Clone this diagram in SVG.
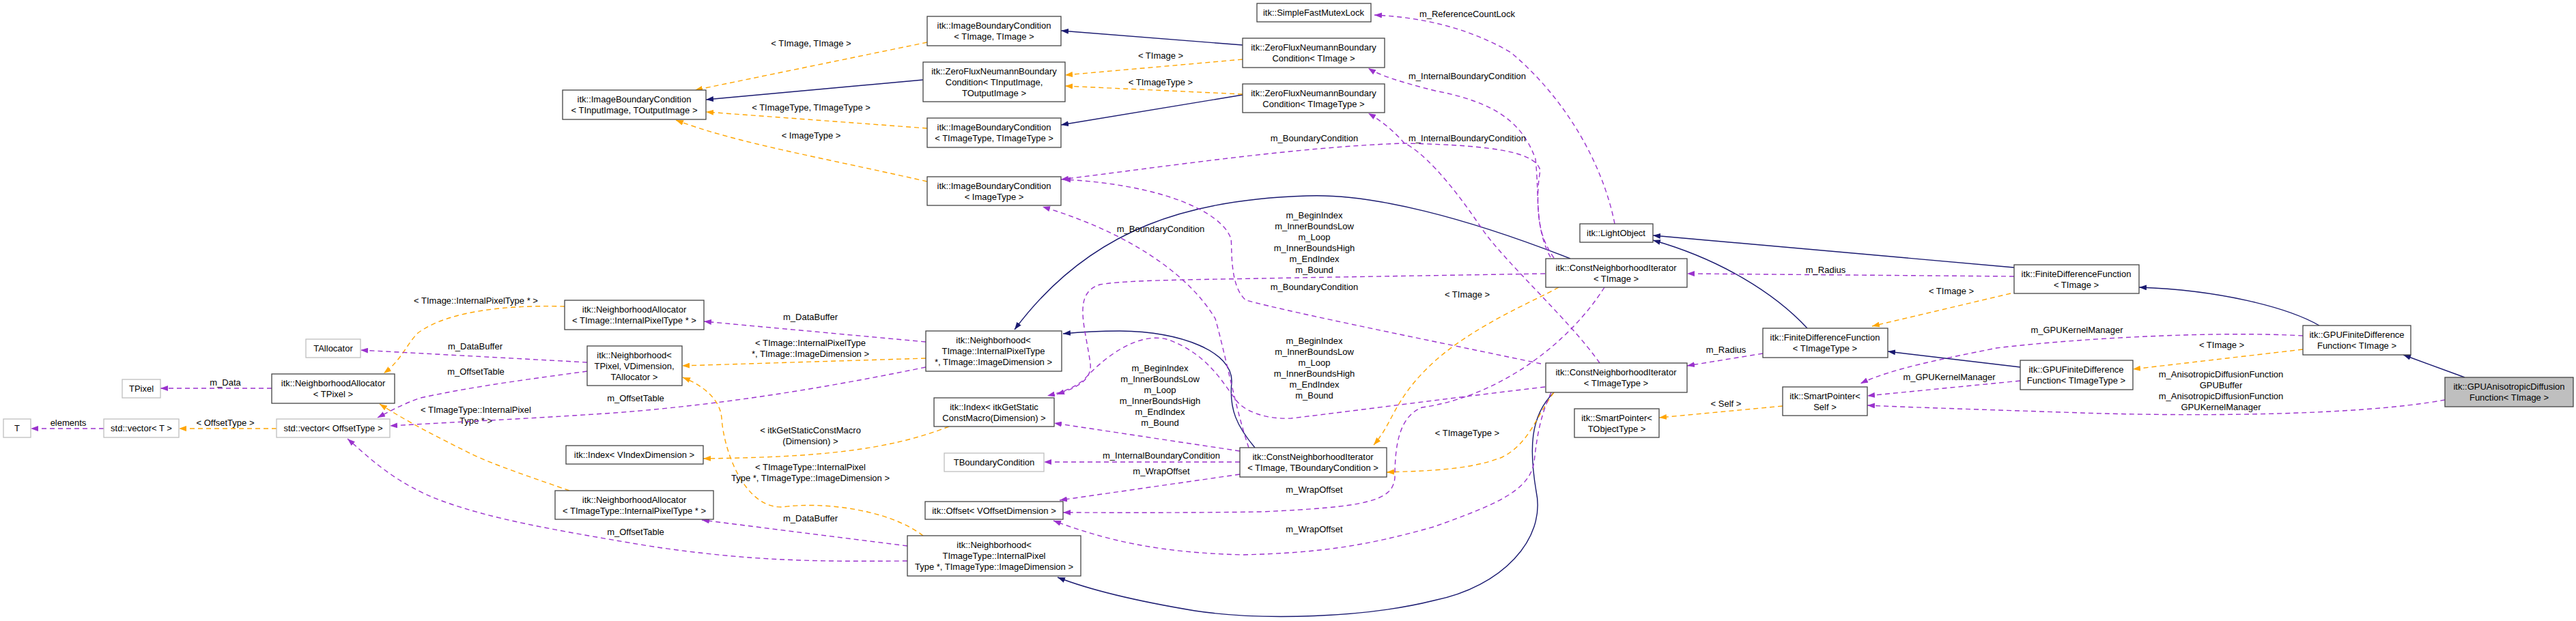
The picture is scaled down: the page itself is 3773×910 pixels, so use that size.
<svg xmlns="http://www.w3.org/2000/svg" width="3773" height="910" viewBox="0 0 3773 910">
<style>
text{font-family:"Liberation Sans",Arial,sans-serif;font-size:13px;fill:#000;text-anchor:middle}
.n rect{fill:#fff;stroke:#444;stroke-width:1.3}
.g rect{fill:#fff;stroke:#bfbfbf;stroke-width:1.3}
.h rect{fill:#bfbfbf;stroke:#444;stroke-width:1.3}
.inh{fill:none;stroke:#191970;stroke-width:1.4;marker-end:url(#aN)}
.use{fill:none;stroke:#9a32cd;stroke-width:1.4;stroke-dasharray:7,5;marker-end:url(#aP)}
.tpl{fill:none;stroke:#ffa500;stroke-width:1.4;stroke-dasharray:7,5;marker-end:url(#aO)}
</style>
<defs>
<marker id="aN" markerUnits="userSpaceOnUse" markerWidth="11" markerHeight="8" refX="11" refY="4" orient="auto"><path d="M0,0L11,4L0,8z" fill="#191970"/></marker>
<marker id="aP" markerUnits="userSpaceOnUse" markerWidth="11" markerHeight="8" refX="11" refY="4" orient="auto"><path d="M0,0L11,4L0,8z" fill="#9a32cd"/></marker>
<marker id="aO" markerUnits="userSpaceOnUse" markerWidth="11" markerHeight="8" refX="11" refY="4" orient="auto"><path d="M0,0L11,4L0,8z" fill="#ffa500"/></marker>
</defs>
<rect width="3773" height="910" fill="#fff"/>
<g id="edges">
<path class="inh" d="M1352,117 L1034,146"/>
<path class="inh" d="M1820,66 L1554,45"/>
<path class="inh" d="M1820,139 L1554,183"/>
<path class="inh" d="M2300,379 C2150,320 2010,283 1914,287 C1750,292 1600,330 1486,483"/>
<path class="inh" d="M1838,656 C1812,625 1800,600 1804,560 C1806,515 1730,486 1640,485 C1600,485 1578,487 1557,489"/>
<path class="inh" d="M2276,575 C2240,610 2240,660 2250,720 C2265,790 2200,860 2100,880 C2000,905 1850,910 1750,895 C1660,880 1590,862 1549,846"/>
<path class="inh" d="M2950,392 L2421,345"/>
<path class="inh" d="M2647,481 C2600,430 2520,380 2421,352"/>
<path class="inh" d="M2959,538 L2765,515"/>
<path class="inh" d="M3397,477 C3350,450 3250,425 3133,421"/>
<path class="inh" d="M3610,553 L3520,520"/>

<path class="tpl" d="M1358,62 L1018,132"/><text x="1188" y="68">&lt; TImage, TImage &gt;</text>
<path class="tpl" d="M1358,188 L1034,164"/><text x="1188" y="162">&lt; TImageType, TImageType &gt;</text>
<path class="tpl" d="M1358,266 C1200,230 1080,210 990,176"/><text x="1188" y="203">&lt; ImageType &gt;</text>
<path class="tpl" d="M1820,87 L1560,110"/><text x="1700" y="86">&lt; TImage &gt;</text>
<path class="tpl" d="M1820,138 L1560,126"/><text x="1700" y="125">&lt; TImageType &gt;</text>
<path class="tpl" d="M827,449 C760,447 660,452 612,488 C595,505 588,528 562,547"/><text x="697" y="445">&lt; TImage::InternalPixelType * &gt;</text>
<path class="tpl" d="M1356,525 L999,536"/><text x="1187" y="507">&lt; TImage::InternalPixelType</text><text x="1187" y="523">*, TImage::ImageDimension &gt;</text>
<path class="tpl" d="M1352,785 C1300,745 1200,735 1146,743 C1090,745 1060,660 1057,613 C1055,585 1030,565 1000,553"/><text x="1187" y="689">&lt; TImageType::InternalPixel</text><text x="1187" y="705">Type *, TImageType::ImageDimension &gt;</text>
<path class="tpl" d="M834,719 C780,700 720,680 690,665 C640,640 600,620 556,592"/><text x="697" y="605">&lt; TImageType::InternalPixel</text><text x="697" y="621">Type * &gt;</text>
<path class="tpl" d="M1390,625 C1300,660 1200,670 1030,672"/><text x="1187" y="635">&lt; itkGetStaticConstMacro</text><text x="1187" y="651">(Dimension) &gt;</text>
<path class="tpl" d="M405,628 L262,628"/><text x="330" y="624">&lt; OffsetType &gt;</text>
<path class="tpl" d="M2283,421 C2250,440 2150,480 2090,540 C2040,590 2040,620 2012,652"/><text x="2149" y="436">&lt; TImage &gt;</text>
<path class="tpl" d="M2276,575 C2250,610 2240,650 2200,670 C2150,690 2080,690 2031,692"/><text x="2149" y="639">&lt; TImageType &gt;</text>
<path class="tpl" d="M2945,430 L2742,478"/><text x="2858" y="431">&lt; TImage &gt;</text>
<path class="tpl" d="M3373,512 L3124,541"/><text x="3254" y="510">&lt; TImage &gt;</text>
<path class="tpl" d="M2611,595 L2430,612"/><text x="2528" y="596">&lt; Self &gt;</text>

<path class="use" d="M398,569 L235,569"/><text x="330" y="565">m_Data</text>
<path class="use" d="M152,628 L45,628"/><text x="100" y="624">elements</text>
<path class="use" d="M860,531 L528,513"/><text x="696" y="512">m_DataBuffer</text>
<path class="use" d="M860,544 C780,555 700,565 616,583 C590,592 570,603 553,612"/><text x="697" y="549">m_OffsetTable</text>
<path class="use" d="M1356,501 L1031,471"/><text x="1187" y="469">m_DataBuffer</text>
<path class="use" d="M1356,538 C1200,570 1057,593 900,605 C800,612 713,616 571,624"/><text x="931" y="588">m_OffsetTable</text>
<path class="use" d="M1329,800 L1028,762"/><text x="1187" y="764">m_DataBuffer</text>
<path class="use" d="M1329,822 C1200,823 1102,823 950,800 C800,775 720,760 650,735 C580,710 540,670 509,643"/><text x="931" y="784">m_OffsetTable</text>
<path class="use" d="M1816,677 L1529,677"/><text x="1701" y="672">m_InternalBoundaryCondition</text>
<path class="use" d="M1816,695 L1552,733"/><text x="1701" y="695">m_WrapOffset</text>
<path class="use" d="M1816,661 L1544,620"/>
<text x="1699" y="544">m_BeginIndex</text><text x="1699" y="560">m_InnerBoundsLow</text><text x="1699" y="576">m_Loop</text><text x="1699" y="592">m_InnerBoundsHigh</text><text x="1699" y="608">m_EndIndex</text><text x="1699" y="624">m_Bound</text>
<path class="use" d="M2263,401 L1900,407 C1750,410 1650,410 1611,417 C1570,430 1590,480 1597,533 C1600,560 1570,570 1548,578"/>
<text x="1925" y="320">m_BeginIndex</text><text x="1925" y="336">m_InnerBoundsLow</text><text x="1925" y="352">m_Loop</text><text x="1925" y="368">m_InnerBoundsHigh</text><text x="1925" y="384">m_EndIndex</text><text x="1925" y="400">m_Bound</text>
<path class="use" d="M2263,567 C2150,580 2000,600 1891,613 C1850,615 1820,600 1811,587 C1790,560 1770,520 1712,498 C1670,485 1620,520 1587,557 C1570,570 1555,575 1534,580"/>
<text x="1925" y="504">m_BeginIndex</text><text x="1925" y="520">m_InnerBoundsLow</text><text x="1925" y="536">m_Loop</text><text x="1925" y="552">m_InnerBoundsHigh</text><text x="1925" y="568">m_EndIndex</text><text x="1925" y="584">m_Bound</text>
<path class="use" d="M2271,377 C2250,340 2250,280 2256,250 C2250,225 2200,213 2057,210 C1900,215 1700,245 1554,263"/><text x="1925" y="207">m_BoundaryCondition</text>
<path class="use" d="M2257,533 C2100,500 1900,460 1825,440 C1800,420 1805,360 1803,350 C1790,310 1700,270 1557,263"/><text x="1925" y="425">m_BoundaryCondition</text>
<path class="use" d="M1829,656 C1810,600 1795,520 1780,467 C1740,400 1650,340 1527,303"/><text x="1700" y="340">m_BoundaryCondition</text>
<path class="use" d="M2276,378 C2245,333 2256,300 2249,233 C2230,180 2191,150 2102,133 C2050,120 2020,110 2004,100"/><text x="2149" y="116">m_InternalBoundaryCondition</text>
<path class="use" d="M2343,532 C2300,470 2200,380 2169,333 C2120,260 2080,220 2057,210 C2040,190 2020,175 2004,166"/><text x="2149" y="207">m_InternalBoundaryCondition</text>
<path class="use" d="M2350,421 C2300,500 2200,580 2083,597 C2050,610 2043,650 2043,700 C2040,735 2000,743 1846,750 C1700,752 1600,751 1557,751"/><text x="1925" y="722">m_WrapOffset</text>
<path class="use" d="M2272,575 C2254,613 2250,650 2247,677 C2240,720 2189,740 2100,772 C2000,800 1936,810 1820,813 C1700,810 1623,793 1543,763"/><text x="1925" y="780">m_WrapOffset</text>
<path class="use" d="M2950,405 L2471,401"/><text x="2674" y="400">m_Radius</text>
<path class="use" d="M2582,518 L2471,536"/><text x="2528" y="517">m_Radius</text>
<path class="use" d="M3373,492 C3250,485 3050,495 2924,510 C2850,525 2770,540 2725,562"/><text x="3042" y="488">m_GPUKernelManager</text>
<path class="use" d="M2959,558 L2735,580"/><text x="2855" y="557">m_GPUKernelManager</text>
<path class="use" d="M3581,586 C3450,610 3200,610 3048,605 C2900,600 2800,597 2735,594"/>
<text x="3253" y="553">m_AnisotropicDiffusionFunction</text><text x="3253" y="569">GPUBuffer</text><text x="3253" y="585">m_AnisotropicDiffusionFunction</text><text x="3253" y="601">GPUKernelManager</text>
<path class="use" d="M2365,328 C2350,250 2300,150 2213,77 C2150,40 2080,25 2013,22"/><text x="2149" y="25">m_ReferenceCountLock</text>
</g>

<g id="n_ibc_io" class="n"><rect x="824" y="132" width="210" height="43"/><text x="929" y="150">itk::ImageBoundaryCondition</text><text x="929" y="166">&lt; TInputImage, TOutputImage &gt;</text></g>
<g id="n_ibc_tt" class="n"><rect x="1358" y="24" width="196" height="43"/><text x="1456" y="42">itk::ImageBoundaryCondition</text><text x="1456" y="58">&lt; TImage, TImage &gt;</text></g>
<g id="n_zf_io" class="n"><rect x="1352" y="91" width="208" height="58"/><text x="1456" y="109">itk::ZeroFluxNeumannBoundary</text><text x="1456" y="125">Condition&lt; TInputImage,</text><text x="1456" y="141">TOutputImage &gt;</text></g>
<g id="n_ibc_tit" class="n"><rect x="1358" y="173" width="196" height="43"/><text x="1456" y="191">itk::ImageBoundaryCondition</text><text x="1456" y="207">&lt; TImageType, TImageType &gt;</text></g>
<g id="n_ibc_it" class="n"><rect x="1358" y="259" width="196" height="42"/><text x="1456" y="277">itk::ImageBoundaryCondition</text><text x="1456" y="293">&lt; ImageType &gt;</text></g>
<g id="n_mutex" class="n"><rect x="1841" y="5" width="167" height="27"/><text x="1924" y="23">itk::SimpleFastMutexLock</text></g>
<g id="n_zf_t" class="n"><rect x="1820" y="56" width="208" height="43"/><text x="1924" y="74">itk::ZeroFluxNeumannBoundary</text><text x="1924" y="90">Condition&lt; TImage &gt;</text></g>
<g id="n_zf_tt" class="n"><rect x="1820" y="123" width="208" height="42"/><text x="1924" y="141">itk::ZeroFluxNeumannBoundary</text><text x="1924" y="157">Condition&lt; TImageType &gt;</text></g>
<g id="n_light" class="n"><rect x="2314" y="328" width="107" height="27"/><text x="2367" y="346">itk::LightObject</text></g>
<g id="n_cni_t" class="n"><rect x="2264" y="379" width="207" height="42"/><text x="2367" y="397">itk::ConstNeighborhoodIterator</text><text x="2367" y="413">&lt; TImage &gt;</text></g>
<g id="n_cni_tt" class="n"><rect x="2264" y="532" width="207" height="43"/><text x="2367" y="550">itk::ConstNeighborhoodIterator</text><text x="2367" y="566">&lt; TImageType &gt;</text></g>
<g id="n_sp_to" class="n"><rect x="2306" y="599" width="124" height="42"/><text x="2368" y="617">itk::SmartPointer&lt;</text><text x="2368" y="633">TObjectType &gt;</text></g>
<g id="n_fdf_tt" class="n"><rect x="2582" y="481" width="183" height="43"/><text x="2673" y="499">itk::FiniteDifferenceFunction</text><text x="2673" y="515">&lt; TImageType &gt;</text></g>
<g id="n_sp_self" class="n"><rect x="2611" y="567" width="124" height="42"/><text x="2673" y="585">itk::SmartPointer&lt;</text><text x="2673" y="601">Self &gt;</text></g>
<g id="n_fdf_t" class="n"><rect x="2950" y="388" width="183" height="42"/><text x="3041" y="406">itk::FiniteDifferenceFunction</text><text x="3041" y="422">&lt; TImage &gt;</text></g>
<g id="n_gfdf_t" class="n"><rect x="3373" y="477" width="158" height="43"/><text x="3452" y="495">itk::GPUFiniteDifference</text><text x="3452" y="511">Function&lt; TImage &gt;</text></g>
<g id="n_gfdf_tt" class="n"><rect x="2959" y="528" width="165" height="43"/><text x="3041" y="546">itk::GPUFiniteDifference</text><text x="3041" y="562">Function&lt; TImageType &gt;</text></g>
<g id="n_gad" class="h"><rect x="3581" y="553" width="188" height="43"/><text x="3675" y="571">itk::GPUAnisotropicDiffusion</text><text x="3675" y="587">Function&lt; TImage &gt;</text></g>
<g id="n_na_tip" class="n"><rect x="827" y="440" width="204" height="43"/><text x="929" y="458">itk::NeighborhoodAllocator</text><text x="929" y="474">&lt; TImage::InternalPixelType * &gt;</text></g>
<g id="n_nb_pix" class="n"><rect x="860" y="507" width="139" height="58"/><text x="929" y="525">itk::Neighborhood&lt;</text><text x="929" y="541">TPixel, VDimension,</text><text x="929" y="557">TAllocator &gt;</text></g>
<g id="n_idx_v" class="n"><rect x="829" y="653" width="201" height="27"/><text x="929" y="671">itk::Index&lt; VIndexDimension &gt;</text></g>
<g id="n_na_ttip" class="n"><rect x="813" y="719" width="232" height="42"/><text x="929" y="737">itk::NeighborhoodAllocator</text><text x="929" y="753">&lt; TImageType::InternalPixelType * &gt;</text></g>
<g id="n_nb_ti" class="n"><rect x="1356" y="485" width="199" height="59"/><text x="1455" y="503">itk::Neighborhood&lt;</text><text x="1455" y="519">TImage::InternalPixelType</text><text x="1455" y="535">*, TImage::ImageDimension &gt;</text></g>
<g id="n_idx_m" class="n"><rect x="1368" y="583" width="176" height="42"/><text x="1456" y="601">itk::Index&lt; itkGetStatic</text><text x="1456" y="617">ConstMacro(Dimension) &gt;</text></g>
<g id="n_tbc" class="g"><rect x="1383" y="664" width="146" height="27"/><text x="1456" y="682">TBoundaryCondition</text></g>
<g id="n_off" class="n"><rect x="1355" y="735" width="202" height="26"/><text x="1456" y="753">itk::Offset&lt; VOffsetDimension &gt;</text></g>
<g id="n_nb_tti" class="n"><rect x="1329" y="785" width="254" height="59"/><text x="1456" y="803">itk::Neighborhood&lt;</text><text x="1456" y="819">TImageType::InternalPixel</text><text x="1456" y="835">Type *, TImageType::ImageDimension &gt;</text></g>
<g id="n_cni_tb" class="n"><rect x="1816" y="656" width="215" height="43"/><text x="1923" y="674">itk::ConstNeighborhoodIterator</text><text x="1923" y="690">&lt; TImage, TBoundaryCondition &gt;</text></g>
<g id="n_T" class="g"><rect x="5" y="614" width="40" height="27"/><text x="25" y="632">T</text></g>
<g id="n_vec_t" class="g"><rect x="152" y="614" width="110" height="27"/><text x="207" y="632">std::vector&lt; T &gt;</text></g>
<g id="n_vec_o" class="g"><rect x="405" y="614" width="166" height="27"/><text x="488" y="632">std::vector&lt; OffsetType &gt;</text></g>
<g id="n_tpixel" class="g"><rect x="179" y="556" width="56" height="27"/><text x="207" y="574">TPixel</text></g>
<g id="n_na_pix" class="n"><rect x="398" y="548" width="180" height="43"/><text x="488" y="566">itk::NeighborhoodAllocator</text><text x="488" y="582">&lt; TPixel &gt;</text></g>
<g id="n_talloc" class="g"><rect x="448" y="497" width="80" height="27"/><text x="488" y="515">TAllocator</text></g>
</svg>
